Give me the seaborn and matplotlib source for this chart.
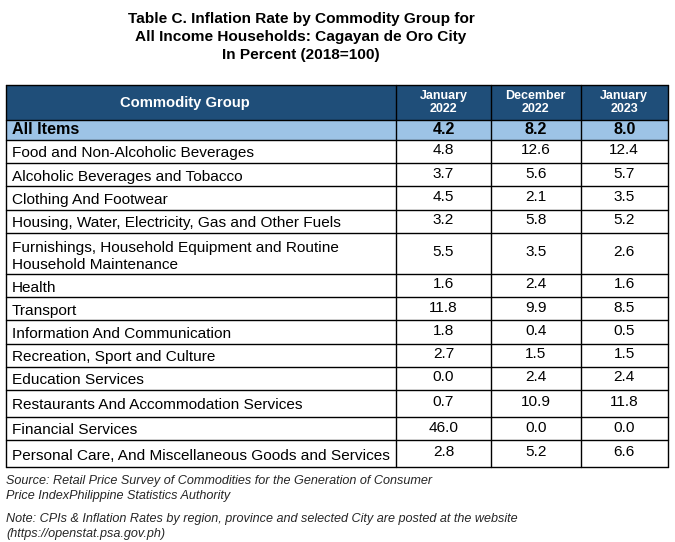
import matplotlib
matplotlib.use("Agg")
import matplotlib.pyplot as plt
from matplotlib.patches import Rectangle
import seaborn as sns

sns.set_theme(style="white")
plt.rcParams['font.family'] = ['Liberation Sans', 'DejaVu Sans']

title_lines = ["Table C. Inflation Rate by Commodity Group for",
               "All Income Households: Cagayan de Oro City",
               "In Percent (2018=100)"]
col_header = "Commodity Group"
period_labels = ["January\n2022", "December\n2022", "January\n2023"]
categories = ["All Items",
              "Food and Non-Alcoholic Beverages",
              "Alcoholic Beverages and Tobacco",
              "Clothing And Footwear",
              "Housing, Water, Electricity, Gas and Other Fuels",
              "Furnishings, Household Equipment and Routine\nHousehold Maintenance",
              "Health",
              "Transport",
              "Information And Communication",
              "Recreation, Sport and Culture",
              "Education Services",
              "Restaurants And Accommodation Services",
              "Financial Services",
              "Personal Care, And Miscellaneous Goods and Services"]
jan2022 = [4.2, 4.8, 3.7, 4.5, 3.2, 5.5, 1.6, 11.8, 1.8, 2.7, 0.0, 0.7, 46.0, 2.8]
dec2022 = [8.2, 12.6, 5.6, 2.1, 5.8, 3.5, 2.4, 9.9, 0.4, 1.5, 2.4, 10.9, 0.0, 5.2]
jan2023 = [8.0, 12.4, 5.7, 3.5, 5.2, 2.6, 1.6, 8.5, 0.5, 1.5, 2.4, 11.8, 0.0, 6.6]
source_note = ["Source: Retail Price Survey of Commodities for the Generation of Consumer",
               "Price IndexPhilippine Statistics Authority"]
web_note = ["Note: CPIs & Inflation Rates by region, province and selected City are posted at the website",
            "(https://openstat.psa.gov.ph)"]

# layout (pixel-like coordinates)
col_edges = [6, 396, 491, 580.5, 668]
header_top, header_bot = 85, 120
row_edges = [120, 139.5, 163, 186, 209.5, 233, 274, 297, 320, 343.5, 366.5, 389.5, 417, 440, 467]

DARK = "#1F4E79"
LIGHT = "#9DC3E6"

fig = plt.figure(figsize=(6.75, 5.42), dpi=100)
ax = fig.add_axes([0, 0, 1, 1])
ax.set_xlim(0, 675)
ax.set_ylim(542, 0)
ax.axis("off")

# title
for i, t in enumerate(title_lines):
    ax.text(301, 18.5 + i * 18.5, t, ha="center", va="center", fontsize=11.1,
            fontweight="bold", color="black")

# header background
ax.add_patch(Rectangle((col_edges[0], header_top), col_edges[-1] - col_edges[0],
                       header_bot - header_top, facecolor=DARK, edgecolor="none"))
# All items band
ax.add_patch(Rectangle((col_edges[0], row_edges[0]), col_edges[-1] - col_edges[0],
                       row_edges[1] - row_edges[0], facecolor=LIGHT, edgecolor="none"))

hy = (header_top + header_bot) / 2
ax.text(185, hy + 1, col_header, ha="center", va="center",
        fontsize=10.6, fontweight="bold", color="white")
for j, lab in enumerate(period_labels):
    cx = (col_edges[j + 1] + col_edges[j + 2]) / 2
    ax.text(cx, hy, lab, ha="center", va="center", fontsize=9, fontweight="bold",
            color="white", linespacing=1.05)

series = [jan2022, dec2022, jan2023]
for i, cat in enumerate(categories):
    y0, y1 = row_edges[i], row_edges[i + 1]
    cy = (y0 + y1) / 2
    bold = (i == 0)
    multi = "\n" in cat
    ax.text(12, cy + (0 if bold else (3 if multi else 2)), cat, ha="left", va="center",
            fontsize=11.6 if bold else 11.1, fontweight="bold" if bold else "normal",
            color="black", linespacing=1.22)
    for j, s in enumerate(series):
        cx = (col_edges[j + 1] + col_edges[j + 2]) / 2
        ax.text(cx, cy - (0 if bold else 1), f"{s[i]:.1f}", ha="center", va="center",
                fontsize=11.6 if bold else 11.1, fontweight="bold" if bold else "normal",
                color="black")

# grid lines
lw = 1.0
ax.plot([col_edges[0], col_edges[-1]], [header_top, header_top], color="black", lw=lw)
for y in row_edges:
    ax.plot([col_edges[0], col_edges[-1]], [y, y], color="black", lw=lw)
for x in col_edges:
    ax.plot([x, x], [header_top, row_edges[-1]], color="black", lw=lw)

# notes
for i, t in enumerate(source_note):
    ax.text(6, 481 + i * 15, t, ha="left", va="center", fontsize=9.1, style="italic")
for i, t in enumerate(web_note):
    ax.text(6, 519 + i * 15, t, ha="left", va="center", fontsize=9.1, style="italic")

fig.savefig("out.png", dpi=100)
